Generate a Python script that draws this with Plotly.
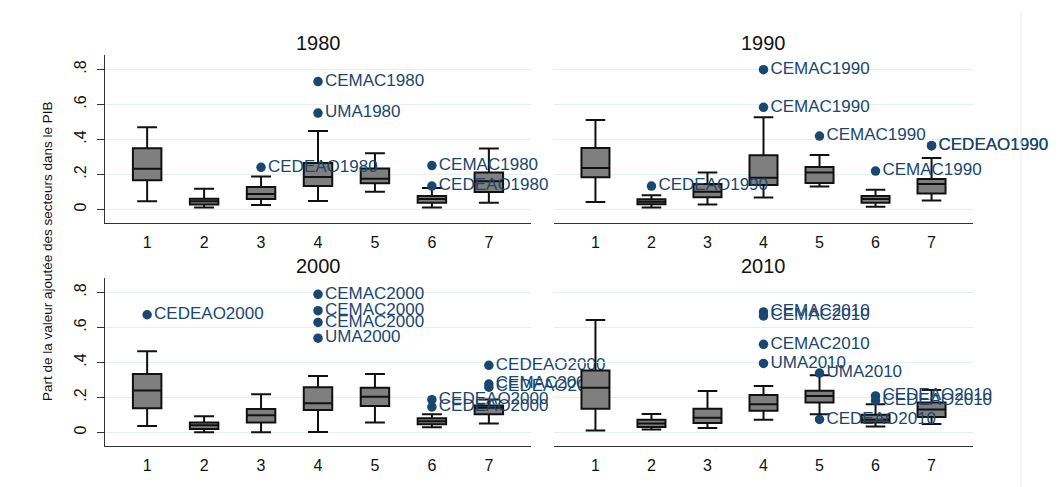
import plotly.graph_objects as go

categories = [1, 2, 3, 4, 5, 6, 7]
panel_titles = ["1980", "1990", "2000", "2010"]
y_tick_vals = [0, 0.2, 0.4, 0.6, 0.8]
y_tick_text = ["0", ".2", ".4", ".6", ".8"]
y_title = "Part de la valeur ajoutée des secteurs dans le PIB"

# 1980
lower_1980 = [0.046, 0.010, 0.025, 0.048, 0.101, 0.011, 0.038]
q1_1980 = [0.166, 0.027, 0.059, 0.133, 0.149, 0.038, 0.099]
med_1980 = [0.232, 0.046, 0.088, 0.185, 0.175, 0.059, 0.160]
q3_1980 = [0.349, 0.061, 0.128, 0.265, 0.234, 0.076, 0.211]
upper_1980 = [0.469, 0.118, 0.187, 0.448, 0.320, 0.122, 0.347]
out_x_1980 = [3, 4, 4, 6, 6]
out_y_1980 = [0.240, 0.730, 0.550, 0.250, 0.133]
out_lab_1980 = ["CEDEAO1980", "CEMAC1980", "UMA1980", "CEMAC1980", "CEDEAO1980"]

# 1990
lower_1990 = [0.042, 0.011, 0.027, 0.067, 0.131, 0.015, 0.051]
q1_1990 = [0.183, 0.029, 0.069, 0.139, 0.150, 0.038, 0.091]
med_1990 = [0.236, 0.044, 0.100, 0.181, 0.211, 0.059, 0.145]
q3_1990 = [0.350, 0.057, 0.145, 0.309, 0.242, 0.076, 0.173]
upper_1990 = [0.510, 0.080, 0.210, 0.526, 0.310, 0.112, 0.293]
out_x_1990 = [2, 4, 4, 5, 6, 7, 7]
out_y_1990 = [0.133, 0.798, 0.583, 0.419, 0.219, 0.364, 0.364]
out_lab_1990 = ["CEDEAO1990", "CEMAC1990", "CEMAC1990", "CEMAC1990",
                "CEMAC1990", "CEDEAO1990", "CEDEAO1990"]

# 2000
lower_2000 = [0.036, 0.000, 0.000, 0.002, 0.057, 0.029, 0.050]
q1_2000 = [0.138, 0.019, 0.056, 0.128, 0.151, 0.046, 0.103]
med_2000 = [0.239, 0.040, 0.098, 0.167, 0.203, 0.063, 0.140]
q3_2000 = [0.333, 0.056, 0.134, 0.258, 0.255, 0.080, 0.154]
upper_2000 = [0.463, 0.092, 0.218, 0.322, 0.333, 0.103, 0.188]
out_x_2000 = [1, 4, 4, 4, 4, 6, 6, 7, 7, 7]
out_y_2000 = [0.672, 0.789, 0.695, 0.628, 0.538, 0.187, 0.145, 0.383, 0.276, 0.258]
out_lab_2000 = ["CEDEAO2000", "CEMAC2000", "CEMAC2000", "CEMAC2000", "UMA2000",
                "CEDEAO2000", "CEDEAO2000", "CEDEAO2000", "CEMAC2000", "CEDEAO2000"]

# 2010
lower_2010 = [0.010, 0.017, 0.025, 0.072, 0.103, 0.034, 0.048]
q1_2010 = [0.135, 0.030, 0.053, 0.124, 0.171, 0.057, 0.088]
med_2010 = [0.255, 0.050, 0.084, 0.160, 0.208, 0.072, 0.131]
q3_2010 = [0.354, 0.072, 0.135, 0.213, 0.238, 0.101, 0.171]
upper_2010 = [0.642, 0.105, 0.236, 0.265, 0.326, 0.160, 0.242]
out_x_2010 = [4, 4, 4, 4, 5, 5, 6, 6]
out_y_2010 = [0.688, 0.665, 0.503, 0.394, 0.339, 0.074, 0.208, 0.181]
out_lab_2010 = ["CEMAC2010", "CEMAC2010", "CEMAC2010", "UMA2010", "UMA2010",
                "CEDEAO2010", "CEDEAO2010", "CEDEAO2010"]

panels = [
    (lower_1980, q1_1980, med_1980, q3_1980, upper_1980, out_x_1980, out_y_1980, out_lab_1980),
    (lower_1990, q1_1990, med_1990, q3_1990, upper_1990, out_x_1990, out_y_1990, out_lab_1990),
    (lower_2000, q1_2000, med_2000, q3_2000, upper_2000, out_x_2000, out_y_2000, out_lab_2000),
    (lower_2010, q1_2010, med_2010, q3_2010, upper_2010, out_x_2010, out_y_2010, out_lab_2010),
]

W, H = 1060, 487
OFF = 8  # page body margin of the browser
FONT = "Liberation Sans, Arial, sans-serif"
NAVY = "#1a476f"

# pixel layout of the panels (screen pixels)
x_doms = [(105 - OFF, 531 - OFF), (554 - OFF, 973 - OFF)]
y_doms = [(55 - OFF, 223 - OFF), (278 - OFF, 446 - OFF)]

fig = go.Figure()
layout = {}
for i, (lo, q1, md, q3, up, ox, oy, ol) in enumerate(panels):
    n = i + 1
    sfx = "" if n == 1 else str(n)
    col = i % 2
    row = i // 2
    fig.add_trace(go.Box(
        x=categories, q1=q1, median=md, q3=q3, lowerfence=lo, upperfence=up,
        width=0.5, whiskerwidth=0.7,
        fillcolor="#7f7f7f", line=dict(color="#111111", width=2),
        xaxis="x" + sfx, yaxis="y" + sfx, showlegend=False, hoverinfo="skip",
    ))
    fig.add_trace(go.Scatter(
        x=ox, y=oy, text=ol, mode="markers+text", textposition="middle right",
        marker=dict(color=NAVY, size=9.5),
        textfont=dict(color=NAVY, size=17, family=FONT),
        xaxis="x" + sfx, yaxis="y" + sfx, showlegend=False, cliponaxis=False,
    ))
    xd = x_doms[col]
    yd = y_doms[row]
    layout["xaxis" + sfx] = dict(
        domain=[xd[0] / W, xd[1] / W], range=[0.26, 7.74],
        anchor="y" + sfx, tickvals=categories, ticktext=[str(c) for c in categories],
        showgrid=False, zeroline=False, showline=True, linecolor="#333333", linewidth=1,
        ticks="", ticklabelstandoff=5,
        tickfont=dict(size=16, color="#111111", family=FONT),
    )
    layout["yaxis" + sfx] = dict(
        domain=[1 - yd[1] / H, 1 - yd[0] / H], range=[-0.078, 0.882],
        anchor="x" + sfx, tickvals=y_tick_vals, ticktext=y_tick_text,
        showgrid=True, gridcolor="#e6eff0", gridwidth=1, zeroline=False,
        showline=(col == 0), linecolor="#333333", linewidth=1,
        ticks="outside" if col == 0 else "", ticklen=7, tickcolor="#333333",
        showticklabels=(col == 0), tickangle=-90, ticklabelstandoff=5,
        tickfont=dict(size=16, color="#111111", family=FONT),
    )
    fig.add_annotation(
        x=(xd[0] + xd[1]) / 2 / W, y=1 - (yd[0] - 12) / H, xref="paper", yref="paper",
        text=panel_titles[i], showarrow=False, xanchor="center", yanchor="middle",
        font=dict(size=20, color="#111111", family=FONT),
    )

fig.add_annotation(
    x=(47 - OFF) / W, y=1 - (252 - OFF) / H, xref="paper", yref="paper", text=y_title,
    textangle=-90, showarrow=False, xanchor="center", yanchor="middle",
    font=dict(size=13.5, color="#111111", family=FONT),
)
fig.add_shape(type="line", xref="paper", yref="paper",
              x0=(1021 - OFF) / W, x1=(1021 - OFF) / W, y0=0, y1=1 - 3 / H,
              line=dict(color="#e8f0f0", width=1))

fig.update_layout(
    width=W, height=H, margin=dict(l=0, r=0, t=0, b=0),
    paper_bgcolor="white", plot_bgcolor="white", boxmode="overlay",
    font=dict(family=FONT), **layout,
)
fig.write_html("out.html")
